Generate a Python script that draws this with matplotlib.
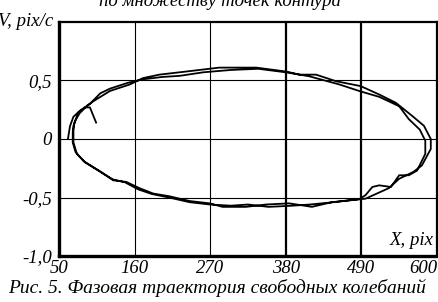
"""Phase trajectory of free oscillations (contour point set)."""

import matplotlib
matplotlib.use("Agg")
import matplotlib.pyplot as plt

plt.rcParams.update({
    "font.family": "Liberation Serif",
    "font.style": "italic",
    "font.size": 13.5,
})

# axis ticks
x_ticks = [50, 160, 270, 380, 490, 600]
v_ticks = [-1.0, -0.5, 0.0, 0.5, 1.0]
v_tick_labels = ["-1,0", "-0,5", "0", "0,5", ""]

# first lap, starting at the left tip
lap1_x = [63, 66, 71, 80, 95, 110, 124, 150, 172, 200, 226, 260, 300, 340, 380,
          414, 458, 487, 516, 545, 559, 575, 583, 583, 571, 559, 545, 533, 516,
          506, 496, 487, 450, 415, 390, 355, 325, 300, 270, 240, 210, 185, 165,
          146, 128, 108, 86, 74, 70, 70, 73, 80, 92, 102]
lap1_v = [0.0, 0.11, 0.19, 0.24, 0.30, 0.39, 0.43, 0.48, 0.51, 0.53, 0.54, 0.57,
          0.59, 0.60, 0.57, 0.536, 0.466, 0.41, 0.36, 0.28, 0.17, 0.08, -0.015,
          -0.127, -0.27, -0.31, -0.31, -0.41, -0.396, -0.41, -0.48, -0.514,
          -0.54, -0.56, -0.57, -0.58, -0.56, -0.57, -0.56, -0.54, -0.50, -0.47,
          -0.43, -0.37, -0.345, -0.27, -0.19, -0.11, -0.03, 0.06, 0.15, 0.22,
          0.29, 0.33]

# second lap, ending in the short hook
lap2_x = [124, 153, 172, 196, 240, 283, 337, 381, 400, 424, 453, 489, 516, 540,
          564, 581, 591, 591, 578, 566, 545, 530, 496, 447, 418, 385, 351, 322,
          288, 269, 240, 211, 187, 167, 148, 129, 110, 88, 76, 71, 71, 78, 88,
          95, 104]
lap2_v = [0.41, 0.466, 0.52, 0.55, 0.58, 0.61, 0.61, 0.576, 0.55, 0.55, 0.494,
          0.452, 0.38, 0.31, 0.197, 0.113, 0.0, -0.085, -0.226, -0.28, -0.34,
          -0.42, -0.51, -0.54, -0.58, -0.55, -0.56, -0.58, -0.58, -0.55, -0.53,
          -0.49, -0.466, -0.42, -0.367, -0.353, -0.28, -0.2, -0.127, -0.03,
          0.113, 0.226, 0.27, 0.27, 0.14]

fig = plt.figure(figsize=(4.39, 3.02), dpi=100)
ax = fig.add_axes([0.1344, 0.1523, 0.861, 0.7749])

ax.plot(lap1_x + lap2_x, lap1_v + lap2_v, color="black", lw=1.3,
        solid_joinstyle="round")

ax.set_xlim(x_ticks[0], x_ticks[-1])
ax.set_ylim(v_ticks[0], v_ticks[-1])
ax.set_xticks(x_ticks)
ax.set_yticks(v_ticks)
ax.set_yticklabels(v_tick_labels)
ax.tick_params(length=0, pad=5)
ax.tick_params(axis="x", pad=3)
ax.get_xticklabels()[-1].set_ha("right")

# grid: two of the verticals are drawn heavier
for xv in x_ticks[1:-1]:
    ax.axvline(xv, color="black", lw=1.6 if xv in (380, 490) else 0.8, zorder=1)
for vv in v_ticks[1:-1]:
    ax.axhline(vv, color="black", lw=0.8, zorder=1)

for side in ("left", "bottom"):
    ax.spines[side].set_linewidth(2.4)
for side in ("top", "right"):
    ax.spines[side].set_linewidth(1.6)

ax.text(0.99, 0.03, "X, pix", transform=ax.transAxes, ha="right", va="bottom")
ax.text(-0.015, 1.0, "V, pix/c", transform=ax.transAxes, ha="right", va="center")

fig.text(0.5, 1 - 6 / 302, "по множеству точек контура", ha="center",
         va="baseline")
fig.text(0.495, 1 - 293 / 302, "Рис. 5. Фазовая траектория свободных колебаний",
         ha="center", va="baseline", fontsize=14)

fig.savefig("out.png")
plt.close(fig)
